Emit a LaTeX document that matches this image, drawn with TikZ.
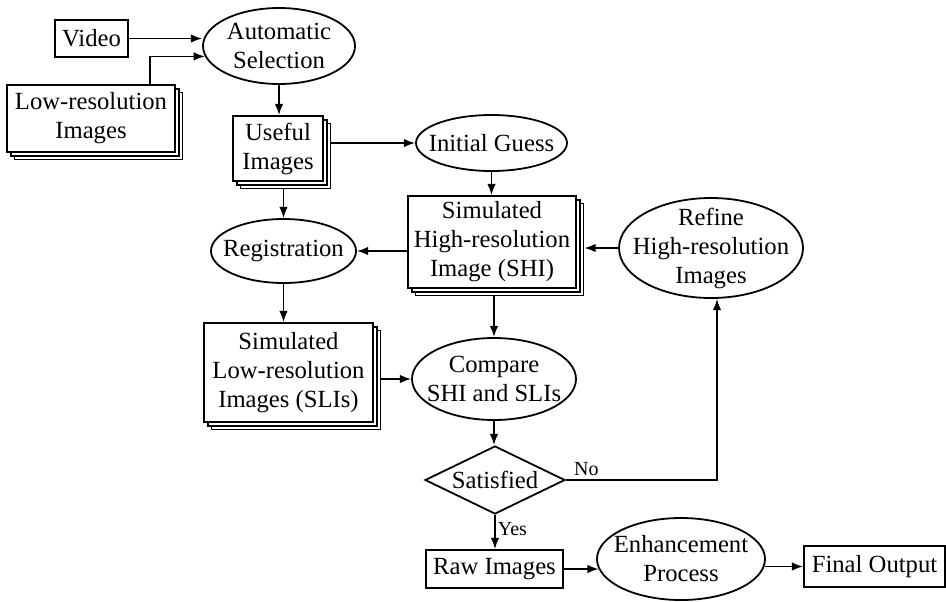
\documentclass[tikz,border=0pt]{standalone}
\usepackage{fontspec}
\setmainfont{Liberation Serif}
\usetikzlibrary{shapes.geometric,shadows,arrows.meta,calc}
\begin{document}
\begin{tikzpicture}[x=0.75pt,y=-0.75pt,
 base/.style={draw, line width=1.35pt, inner sep=0pt, align=center, font=\fontsize{18.5}{21.75}\selectfont},
 sz/.style 2 args={minimum width=#1*0.75pt, minimum height=#2*0.75pt},
 box/.style={base, rectangle, fill=white},
 stack/.style={box, double copy shadow={shadow xshift=2.8pt, shadow yshift=-2.8pt, line width=1.2pt}},
 oval/.style={base, ellipse},
 decision/.style={base, diamond},
 lbl/.style={align=center, inner sep=0pt, font=\fontsize{18.5}{21.75}\selectfont},
 arr/.style={line width=1.35pt, -{Latex[length=8.5pt,width=6.5pt]}},
 small/.style={font=\fontsize{15}{17}\selectfont, inner sep=1.5pt}
]
\useasboundingbox (0,0) rectangle (946,601);

\node[box, sz={73}{37}] (video) at (91.5,38.5) {Video};
\node[stack, sz={168}{67}] (lowres) at (91,118.5) {Low-resolution\\Images};
\node[oval, sz={152}{76}, label={[lbl]center:{Automatic\\Selection}}] (autosel) at (279,46) {};
\node[stack, sz={90}{65}] (useful) at (278,148.5) {Useful\\Images};
\node[oval, sz={151}{56}, label={[lbl]center:{Initial Guess}}] (initial) at (491.5,143) {};
\node[stack, sz={168}{92}] (shi) at (492,242) {Simulated\\High-resolution\\Image (SHI)};
\node[oval, sz={145}{64}, label={[lbl]center:{Registration}}] (reg) at (283.5,251) {};
\node[oval, sz={184}{100}, label={[lbl]center:{Refine\\High-resolution\\Images}}] (refine) at (711,248) {};
\node[stack, sz={169}{99}] (sli) at (288.5,372.5) {Simulated\\Low-resolution\\Images (SLIs)};
\node[oval, sz={164}{82}, label={[lbl]center:{Compare\\SHI and SLIs}}] (compare) at (494,379) {};
\node[decision, sz={140}{68}, label={[lbl]center:{Satisfied}}] (sat) at (495,480) {};
\node[box, sz={137}{38}] (raw) at (494.5,569) {Raw Images};
\node[oval, sz={168}{82}, label={[lbl]center:{Enhancement\\Process}}] (enh) at (681,559) {};
\node[box, sz={141}{41}] (final) at (874.5,566.5) {Final Output};

\draw[arr] (video.east) -- (video.east -| autosel.west);
\draw[arr] ($(lowres.north)+(44.25pt,0)$) |- (autosel.188);
\draw[arr] (autosel.south) -- (autosel.south |- useful.north);
\draw[arr] ($(useful.east |- initial.west)+(5.6pt,0)$) -- (initial.west);
\draw[arr] ($(reg.north |- useful.south)+(0,-5.6pt)$) -- (reg.north);
\draw[arr] (initial.south) -- (initial.south |- shi.north);
\draw[arr] (shi.west |- reg.east) -- (reg.east);
\draw[arr] (refine.west) -- ($(refine.west -| shi.east)+(5.6pt,0)$);
\draw[arr] (reg.south) -- (reg.south |- sli.north);
\draw[arr] ($(compare.north |- shi.south)+(0,-5.6pt)$) -- (compare.north);
\draw[arr] ($(sli.east |- compare.west)+(5.6pt,0)$) -- (compare.west);
\draw[arr] (compare.south) -- (compare.south |- sat.north);
\draw[arr] (sat.east) -| node[small, pos=0, anchor=south west, xshift=4pt, yshift=1pt] {No} ($(refine.south)+(4.5pt,0)$);
\draw[arr] (sat.south) -- node[small, right, pos=0.4] {Yes} (sat.south |- raw.north);
\draw[arr] (raw.east) -- ($(raw.east -| enh.west)+(1.9pt,0)$);
\draw[arr] ($(enh.east |- final.west)+(-0.8pt,0)$) -- (final.west);
\end{tikzpicture}
\end{document}
